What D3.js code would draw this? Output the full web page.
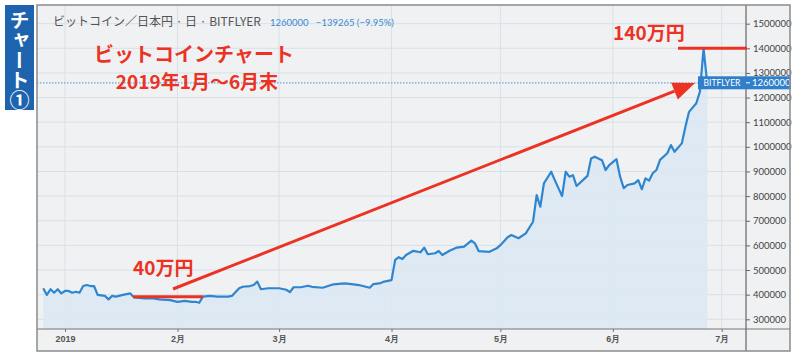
<!DOCTYPE html>
<html><head><meta charset="utf-8">
<script src="https://cdn.jsdelivr.net/npm/d3@7"></script>
<style>
body{margin:0;background:#fff;}
svg{display:block;font-family:"Noto Sans CJK JP","Noto Sans",sans-serif;}
</style></head>
<body>
<svg id="c" width="800" height="357"></svg>
<script>
// ---- data ----
const dates = ["2018-12-26","2018-12-27","2018-12-28","2018-12-29","2018-12-30","2018-12-31","2019-01-01","2019-01-02","2019-01-03","2019-01-04","2019-01-05","2019-01-06","2019-01-07","2019-01-08","2019-01-09","2019-01-10","2019-01-12","2019-01-13","2019-01-14","2019-01-15","2019-01-17","2019-01-19","2019-01-20","2019-01-23","2019-01-25","2019-01-27","2019-01-30","2019-02-01","2019-02-03","2019-02-05","2019-02-06","2019-02-07","2019-02-08","2019-02-10","2019-02-12","2019-02-15","2019-02-16","2019-02-18","2019-02-19","2019-02-21","2019-02-22","2019-02-23","2019-02-24","2019-02-26","2019-02-28","2019-03-01","2019-03-03","2019-03-04","2019-03-05","2019-03-07","2019-03-09","2019-03-10","2019-03-13","2019-03-16","2019-03-19","2019-03-21","2019-03-23","2019-03-26","2019-03-27","2019-03-29","2019-03-30","2019-04-01","2019-04-02","2019-04-03","2019-04-04","2019-04-05","2019-04-07","2019-04-09","2019-04-10","2019-04-11","2019-04-13","2019-04-14","2019-04-15","2019-04-17","2019-04-19","2019-04-21","2019-04-23","2019-04-24","2019-04-25","2019-04-28","2019-04-30","2019-05-01","2019-05-03","2019-05-04","2019-05-06","2019-05-08","2019-05-10","2019-05-11","2019-05-12","2019-05-13","2019-05-15","2019-05-16","2019-05-18","2019-05-19","2019-05-20","2019-05-21","2019-05-22","2019-05-25","2019-05-26","2019-05-27","2019-05-29","2019-05-30","2019-05-31","2019-06-02","2019-06-03","2019-06-04","2019-06-05","2019-06-07","2019-06-08","2019-06-09","2019-06-10","2019-06-11","2019-06-12","2019-06-13","2019-06-14","2019-06-16","2019-06-17","2019-06-18","2019-06-20","2019-06-21","2019-06-22","2019-06-24","2019-06-25","2019-06-26","2019-06-27"];
const prices = [426000,399000,422000,408000,422000,405000,415000,415000,408000,412000,408000,435000,439000,435000,435000,399000,395000,381000,395000,392000,399000,405000,389000,385000,386000,381000,378000,371000,375000,371000,371000,367000,392000,395000,392000,392000,395000,426000,432000,435000,439000,453000,422000,426000,426000,426000,420000,410000,430000,430000,436000,432000,428000,442000,446000,443000,439000,428000,443000,447000,453000,459000,541000,552000,545000,561000,578000,572000,591000,564000,568000,577000,561000,578000,591000,595000,619000,608000,577000,574000,588000,601000,633000,642000,629000,649000,696000,804000,757000,852000,899000,865000,800000,899000,879000,885000,841000,882000,953000,960000,946000,906000,926000,950000,879000,832000,845000,852000,865000,828000,872000,863000,893000,906000,947000,974000,1007000,980000,1014000,1082000,1142000,1177000,1224000,1400000,1260000];
const yTicks = [300000,400000,500000,600000,700000,800000,900000,1000000,1100000,1200000,1300000,1400000,1500000];
const monthTicks = ["2019-01-01","2019-02-01","2019-03-01","2019-04-01","2019-05-01","2019-06-01","2019-07-01"];
const lastPrice = 1260000;
const headerTitle = "ビットコイン／日本円 · 日 · BITFLYER";
const headerQuote = "1260000   −139265 (−9.95%)";

const parse = d3.timeParse("%Y-%m-%d");
const data = dates.map((d,i)=>({date:parse(d), v:prices[i]}));

const svg = d3.select("#c");
const L=37, R=746, T=5, B=329, FR=790, FB=351;

const x = d3.scaleTime().domain([parse("2019-01-01"), parse("2019-07-01")]).range([65, 721.7]);
const y = d3.scaleLinear().domain([300000,1400000]).range([319.3,48.3]);

// frame background
svg.append("rect").attr("x",L).attr("y",T).attr("width",FR-L).attr("height",FB-T).attr("fill","#f0f1f2");

const clip = svg.append("clipPath").attr("id","pc").append("rect").attr("x",L).attr("y",T).attr("width",R-L).attr("height",B-T);

// grid
const grid = svg.append("g");
grid.selectAll("line.h").data(yTicks).join("line")
  .attr("x1",L).attr("x2",R).attr("y1",d=>y(d)).attr("y2",d=>y(d))
  .attr("stroke","#d6e1ea").attr("stroke-width",1);
grid.selectAll("line.v").data(monthTicks).join("line")
  .attr("x1",d=>x(parse(d))).attr("x2",d=>x(parse(d))).attr("y1",T).attr("y2",B)
  .attr("stroke","#d6e1ea").attr("stroke-width",1);

// area + line
const g = svg.append("g").attr("clip-path","url(#pc)");
g.append("path").datum(data)
  .attr("d", d3.area().x(d=>x(d.date)).y0(B).y1(d=>y(d.v)))
  .attr("fill","#dce8f3").attr("opacity",0.9);
// extend the area fill back to the left edge
g.append("path").datum(data)
  .attr("d", d3.line().x(d=>x(d.date)).y(d=>y(d.v)))
  .attr("fill","none").attr("stroke","#2e86d1").attr("stroke-width",2.2).attr("stroke-linejoin","round");

// last price dotted line
svg.append("line").attr("x1",L).attr("x2",698).attr("y1",y(lastPrice)).attr("y2",y(lastPrice))
  .attr("stroke","#6aa8dc").attr("stroke-width",1.2).attr("stroke-dasharray","1.5,1.5");

// axes
svg.append("line").attr("x1",R).attr("x2",R).attr("y1",T).attr("y2",FB).attr("stroke","#666").attr("stroke-width",1.2);
svg.append("line").attr("x1",L).attr("x2",FR).attr("y1",B).attr("y2",B).attr("stroke","#777").attr("stroke-width",1.2);

const yAxis = d3.axisRight(y).tickValues(yTicks).tickSize(4).tickPadding(3).tickFormat(d3.format("d"));
const ya = svg.append("g").attr("transform",`translate(${R},0)`).call(yAxis);
ya.select(".domain").remove();
ya.selectAll("line").attr("stroke","#666");
ya.selectAll("text").attr("fill","#444").attr("font-size","9.5px").attr("font-family","Lato, 'Noto Sans', sans-serif");

const xAxis = d3.axisBottom(x).tickValues(monthTicks.map(parse)).tickSize(3).tickPadding(4)
  .tickFormat(d=> d.getMonth()===0 ? "2019" : (d.getMonth()+1)+"月");
const xa = svg.append("g").attr("transform",`translate(0,${B})`).call(xAxis);
xa.select(".domain").remove();
xa.selectAll("line").attr("stroke","#777");
xa.selectAll("text").attr("fill","#555").attr("font-size","9px").attr("font-weight","bold");

// price label
const lp = svg.append("g");
lp.append("rect").attr("x",698).attr("y",y(lastPrice)-6.5).attr("width",FR-698+1).attr("height",13).attr("fill","#2f7fcb");
lp.append("text").attr("x",722).attr("y",y(lastPrice)+3.5).attr("text-anchor","middle").attr("fill","#fff").attr("font-size","8.5px").attr("font-family","Lato, sans-serif").text("BITFLYER");
lp.append("line").attr("x1",R).attr("x2",R+4).attr("y1",y(lastPrice)).attr("y2",y(lastPrice)).attr("stroke","#fff");
lp.append("text").attr("x",752).attr("y",y(lastPrice)+3.5).attr("fill","#fff").attr("font-size","9.5px").attr("font-family","Lato, sans-serif").text(String(lastPrice));

// frame border
svg.append("rect").attr("x",L).attr("y",T).attr("width",FR-L).attr("height",FB-T).attr("fill","none").attr("stroke","#8a8a8a").attr("stroke-width",1.5);

// header
svg.append("text").attr("x",53).attr("y",26).attr("fill","#555").attr("font-size","12px").text(headerTitle);
svg.append("text").attr("x",270).attr("y",25.5).attr("fill","#3a8ad0").attr("font-size","9.5px").attr("font-family","Lato, sans-serif").attr("xml:space","preserve").style("white-space","pre").text(headerQuote);

// red annotations
const red = "#ec3323";
svg.append("text").attr("x",194).attr("y",62).attr("text-anchor","middle").attr("fill",red).attr("font-size","20px").attr("font-weight","bold").text("ビットコインチャート");
svg.append("text").attr("x",197).attr("y",89).attr("text-anchor","middle").attr("fill",red).attr("font-size","19px").attr("font-weight","bold").text("2019年1月〜6月末");
svg.append("text").attr("x",613).attr("y",40).attr("fill",red).attr("font-size","19px").attr("font-weight","bold").text("140万円");
svg.append("line").attr("x1",678).attr("x2",747).attr("y1",y(1400000)).attr("y2",y(1400000)).attr("stroke",red).attr("stroke-width",3);
svg.append("text").attr("x",133).attr("y",275).attr("fill",red).attr("font-size","19px").attr("font-weight","bold").text("40万円");
svg.append("line").attr("x1",133).attr("x2",203).attr("y1",296.7).attr("y2",296.7).attr("stroke",red).attr("stroke-width",3);

// arrow
const ax0=173, ay0=289, ax1=695, ay1=83;
const ang = Math.atan2(ay1-ay0, ax1-ax0);
const hl=22, hw=9;
const bx = ax1 - hl*Math.cos(ang), by = ay1 - hl*Math.sin(ang);
svg.append("line").attr("x1",ax0).attr("y1",ay0).attr("x2",bx).attr("y2",by).attr("stroke",red).attr("stroke-width",3);
svg.append("path").attr("d",`M${ax1},${ay1}L${bx+hw*Math.sin(ang)},${by-hw*Math.cos(ang)}L${bx-hw*Math.sin(ang)},${by+hw*Math.cos(ang)}Z`).attr("fill",red);

// left tab
svg.append("rect").attr("x",5).attr("y",5).attr("width",29).attr("height",105).attr("fill","#1e63ad");
svg.append("text").attr("x",19.5).attr("y",10).attr("fill","#fff").attr("font-size","20px").attr("font-weight","bold")
  .style("writing-mode","vertical-rl").style("text-orientation","upright").text("チャート①");
</script>
</body></html>
